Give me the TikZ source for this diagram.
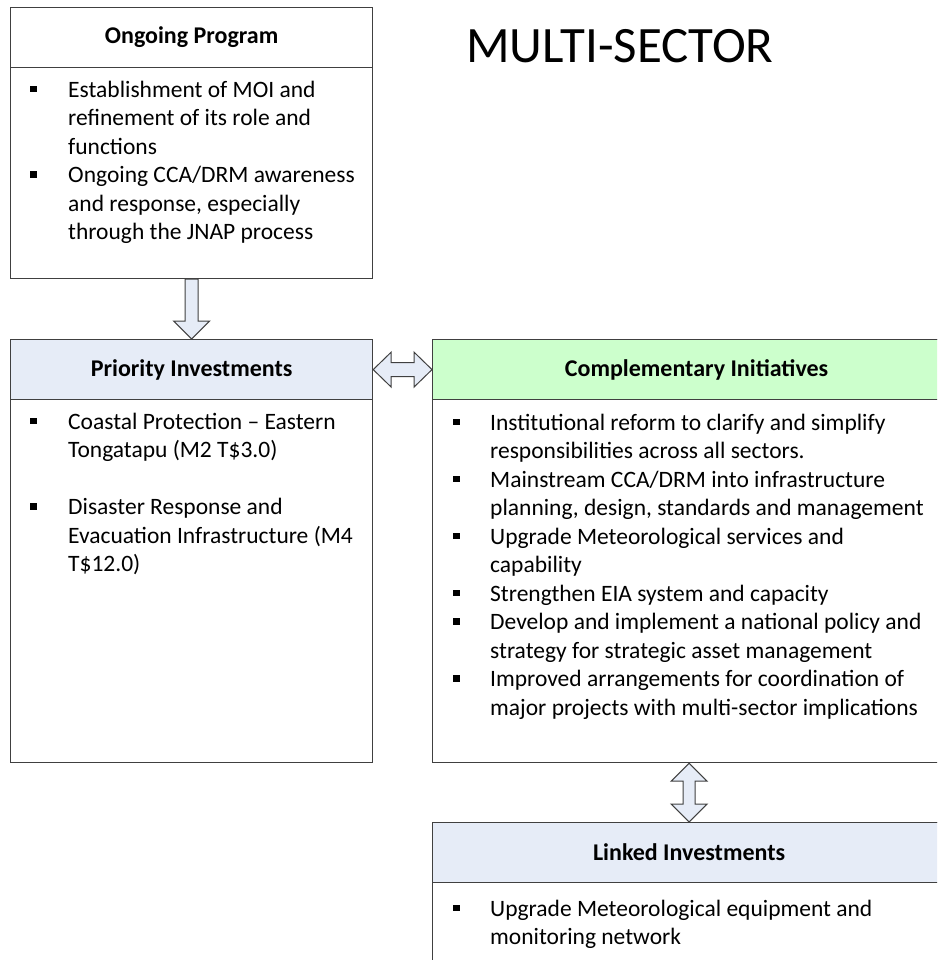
\documentclass[tikz,border=0pt]{standalone}
\usepackage{fontspec}
\setmainfont{Carlito}
\usetikzlibrary{calc}
\definecolor{hdblue}{RGB}{230,236,247}
\definecolor{hdgreen}{RGB}{204,255,204}
\definecolor{edge}{RGB}{64,64,64}
\newcommand{\sq}{\rule[5pt]{6.5pt}{6.5pt}}
\tikzset{
	box/.style={draw=edge, line width=1.2pt, fill=white, anchor=north west, inner sep=0pt},
	hd/.style={draw=edge, line width=1.2pt, anchor=north west, inner sep=0pt, minimum height=60pt, font=\fontsize{24}{28}\selectfont\bfseries},
	txt/.style={anchor=north west, inner sep=0pt, font=\fontsize{23.5}{28.5}\selectfont},
	blk/.style={draw=edge, line width=1pt, fill=hdblue, line join=miter}
}
\begin{document}
\begin{tikzpicture}[x=1pt, y=-1pt]
		\clip (0,0) rectangle (937,960);
		\node (ttl) at (620,46) [font=\fontsize{51}{54}\selectfont] {MULTI-SECTOR};
		% ongoing program
		\node (OP) at (10,7) [box, minimum width=362pt, minimum height=271pt] {};
		\node (OPhd) at (OP.north west) [hd, fill=white, minimum width=362pt] {Ongoing Program};
		\node (OPtx) at (30,77) [txt] {\begin{tabular}{@{}p{38pt}@{}l@{}}
			\sq & Establishment of MOI and\\
			& refinement of its role and\\
			& functions\\
			\sq & Ongoing CCA/DRM awareness\\
			& and response, especially\\
			& through the JNAP process
		\end{tabular}};
		% priority investments
		\node (PI) at (10,339) [box, minimum width=362pt, minimum height=423pt] {};
		\node (PIhd) at (PI.north west) [hd, fill=hdblue, minimum width=362pt] {Priority Investments};
		\node (PItx) at (30,409) [txt] {\begin{tabular}{@{}p{38pt}@{}l@{}}
			\sq & Coastal Protection -- Eastern\\
			& Tongatapu (M2 T\$3.0)\\
			& \\
			\sq & Disaster Response and\\
			& Evacuation Infrastructure (M4\\
			& T\$12.0)
		\end{tabular}};
		% complementary initiatives
		\node (CI) at (432,339) [box, minimum width=528pt, minimum height=423pt] {};
		\node (CIhd) at (CI.north west) [hd, fill=hdgreen, minimum width=528pt] {Complementary Initiatives};
		\node (CItx) at (453,410) [txt] {\begin{tabular}{@{}p{37pt}@{}l@{}}
			\sq & Institutional reform to clarify and simplify\\
			& responsibilities across all sectors.\\
			\sq & Mainstream CCA/DRM into infrastructure\\
			& planning, design, standards and management\\
			\sq & Upgrade Meteorological services and\\
			& capability\\
			\sq & Strengthen EIA system and capacity\\
			\sq & Develop and implement a national policy and\\
			& strategy for strategic asset management\\
			\sq & Improved arrangements for coordination of\\
			& major projects with multi-sector implications
		\end{tabular}};
		% linked investments
		\node (LI) at (432,822) [box, minimum width=513pt, minimum height=160pt] {};
		\node (LIhd) at (LI.north west) [hd, fill=hdblue, minimum width=513pt] {Linked Investments};
		\node (LItx) at (453,896) [txt] {\begin{tabular}{@{}p{37pt}@{}l@{}}
			\sq & Upgrade Meteorological equipment and\\
			& monitoring network
		\end{tabular}};
		% block arrows
		\draw[blk] ($(OP.south)+(-6.5,0)$) -- ($(PI.north)+(-6.5,-18)$) -- ($(PI.north)+(-18,-18)$) -- (PI.north) -- ($(PI.north)+(18,-18)$) -- ($(PI.north)+(6.5,-18)$) -- ($(OP.south)+(6.5,0)$) -- cycle;
		\draw[blk] (PIhd.east) -- ++(18,-17.5) -- ++(0,10.5) -- ($(CIhd.west)+(-18,-7)$) -- ++(0,-10.5) -- (CIhd.west) -- ++(-18,17.5) -- ++(0,-10.5) -- ($(PIhd.east)+(18,7)$) -- ++(0,10.5) -- cycle;
		\coordinate (vt) at (LI.north |- CI.south);
		\draw[blk] (vt) -- ++(18,18) -- ++(-12,0) -- ($(LI.north)+(6,-18)$) -- ++(12,0) -- (LI.north) -- ++(-18,-18) -- ++(12,0) -- ($(vt)+(-6,18)$) -- ++(-12,0) -- cycle;
	\end{tikzpicture}
\end{document}
